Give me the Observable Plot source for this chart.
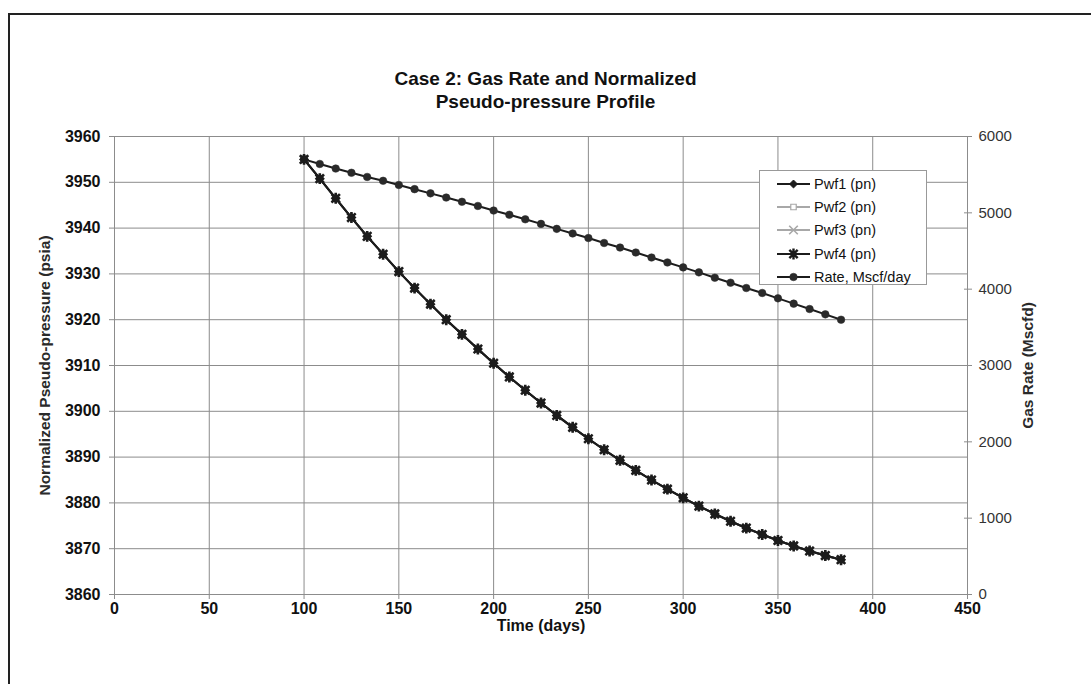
<!DOCTYPE html>
<html><head><meta charset="utf-8">
<script src="https://cdn.jsdelivr.net/npm/d3@7"></script>
<script src="https://cdn.jsdelivr.net/npm/@observablehq/plot@0.6"></script>
<style>
body{margin:0;background:#fff;font-family:"Liberation Sans",Arial,sans-serif;}
#wrap{position:relative;width:1091px;height:684px;overflow:hidden;background:#fff;}
#frame{position:absolute;left:8px;top:13px;width:1100px;height:700px;border-top:2px solid #222;border-left:2px solid #222;}
#title{position:absolute;left:0;width:1091px;top:67px;text-align:center;font-weight:bold;font-size:19px;line-height:23px;color:#111;}
#chart{position:absolute;left:0;top:120px;}
#legend{position:absolute;left:759px;top:170px;width:168px;height:115px;border:1px solid #999;background:#fff;box-sizing:border-box;}
.row{position:absolute;left:0;height:20px;display:flex;align-items:center;font-size:14.5px;color:#111;}
.row svg{margin-left:17px;margin-right:4px;}
</style></head>
<body>
<div id="wrap">
  <div id="frame"></div>
  <div id="title">Case 2: Gas Rate and Normalized<br>Pseudo-pressure Profile</div>
  <div id="chart"></div>
  <div id="legend"></div>
</div>
<script>
// ---- data ----
const timeDays = [100,108.3,116.7,125,133.3,141.7,150,158.3,166.7,175,183.3,191.7,200,208.3,216.7,225,233.3,241.7,250,258.3,266.7,275,283.3,291.7,300,308.3,316.7,325,333.3,341.7,350,358.3,366.7,375,383.3];
const pwf4 = [3955.0,3950.8,3946.5,3942.3,3938.2,3934.3,3930.5,3926.9,3923.4,3920.0,3916.8,3913.6,3910.5,3907.5,3904.6,3901.8,3899.1,3896.5,3894.0,3891.6,3889.3,3887.1,3885.0,3883.0,3881.1,3879.3,3877.6,3876.0,3874.5,3873.1,3871.8,3870.6,3869.5,3868.5,3867.6];
// Pwf1..Pwf3 coincide with Pwf4 in the picture
const pwf1 = [3955.0,3950.8,3946.5,3942.3,3938.2,3934.3,3930.5,3926.9,3923.4,3920.0,3916.8,3913.6,3910.5,3907.5,3904.6,3901.8,3899.1,3896.5,3894.0,3891.6,3889.3,3887.1,3885.0,3883.0,3881.1,3879.3,3877.6,3876.0,3874.5,3873.1,3871.8,3870.6,3869.5,3868.5,3867.6];
const pwf2 = pwf1.slice();
const pwf3 = pwf1.slice();
const rateMscfd = [5700,5640,5580,5525,5470,5420,5365,5310,5255,5200,5145,5090,5030,4975,4915,4855,4790,4730,4670,4605,4545,4480,4415,4350,4285,4220,4150,4085,4015,3950,3880,3810,3740,3670,3600];
const xTicks = [0,50,100,150,200,250,300,350,400,450];
const yTicks = [3860,3870,3880,3890,3900,3910,3920,3930,3940,3950,3960];
const rateTicks = [0,1000,2000,3000,4000,5000,6000];
const yDomain = [3860,3960];
const rateDomain = [0,6000];
const seriesNames = ["Pwf1 (pn)","Pwf2 (pn)","Pwf3 (pn)","Pwf4 (pn)","Rate, Mscf/day"];

// map rate onto left axis units
const toLeft = r => yDomain[0] + (r - rateDomain[0]) * (yDomain[1]-yDomain[0]) / (rateDomain[1]-rateDomain[0]);
const toRate = v => Math.round((v - yDomain[0]) * (rateDomain[1]-rateDomain[0]) / (yDomain[1]-yDomain[0]) + rateDomain[0]);

const rows = timeDays.map((t,i)=>({t, p1:pwf1[i], p2:pwf2[i], p3:pwf3[i], p4:pwf4[i], r: toLeft(rateMscfd[i])}));

const dark = "#1c1c1c", gray = "#a8a8a8", grid = "#8c8c8c";

const starSymbol = {
  draw(ctx, size) {
    const r = Math.sqrt(size / Math.PI);
    const a = r * 0.8;
    ctx.moveTo(-a,-a); ctx.lineTo(a,a);
    ctx.moveTo(-a,a); ctx.lineTo(a,-a);
    ctx.moveTo(0,-r*1.05); ctx.lineTo(0,r*1.05);
  }
};

const chart = Plot.plot({
  width: 1091,
  height: 564,
  marginTop: 16,
  marginBottom: 90,
  marginLeft: 114,
  marginRight: 124,
  style: {fontFamily: "Liberation Sans, Arial, sans-serif", fontSize: "16px", color: "#111", background: "transparent", overflow: "visible"},
  x: {domain: [0,450], axis: null},
  y: {domain: yDomain, axis: null},
  marks: [
    Plot.gridX(xTicks, {stroke: grid, strokeOpacity: 1, strokeWidth: 1}),
    Plot.gridY(yTicks, {stroke: grid, strokeOpacity: 1, strokeWidth: 1}),
    Plot.frame({stroke: grid, strokeWidth: 1}),
    Plot.axisX(xTicks, {anchor: "bottom", tickSize: 5, tickPadding: 3, stroke: grid, fontWeight: "bold", fontSize: 16, tickFormat: d => String(d), label: null}),
    Plot.axisY(yTicks, {anchor: "left", tickSize: 5, tickPadding: 9, stroke: grid, fontWeight: "bold", fontSize: 16, tickFormat: d => String(d), label: null}),
    Plot.axisY(rateTicks.map(toLeft), {anchor: "right", tickSize: 4, tickPadding: 7, stroke: grid, fontSize: 15, fill: "#333", tickFormat: d => String(toRate(d)), label: null}),
    Plot.axisY(rateTicks.map(toLeft), {anchor: "right", tickSize: -4, stroke: grid, tickFormat: () => "", label: null}),
    Plot.text(["Normalized Pseudo-pressure (psia)"], {frameAnchor: "left", dx: -69, rotate: -90, textAnchor: "middle", fontSize: 15.5, fontWeight: "bold", fill: "#2a2a2a"}),
    Plot.text(["Gas Rate (Mscfd)"], {frameAnchor: "right", dx: 61, rotate: -90, textAnchor: "middle", fontSize: 15.5, fontWeight: "bold", fill: "#2a2a2a"}),
    Plot.text(["Time (days)"], {frameAnchor: "bottom", dy: 36, fontSize: 16, fontWeight: "bold", fill: "#111"}),
    // Rate
    Plot.line(rows, {x: "t", y: "r", stroke: dark, strokeWidth: 2}),
    Plot.dot(rows, {x: "t", y: "r", r: 3.8, fill: "#2a2a2a", stroke: "#2a2a2a", strokeWidth: 0.5}),
    // Pwf2, Pwf3 (gray, hidden below)
    Plot.line(rows, {x: "t", y: "p2", stroke: gray, strokeWidth: 2}),
    Plot.dot(rows, {x: "t", y: "p2", symbol: "square2", r: 3.5, fill: "#fff", stroke: gray}),
    Plot.line(rows, {x: "t", y: "p3", stroke: gray, strokeWidth: 2}),
    Plot.dot(rows, {x: "t", y: "p3", symbol: "times", r: 4, stroke: gray}),
    // Pwf1
    Plot.line(rows, {x: "t", y: "p1", stroke: dark, strokeWidth: 2}),
    Plot.dot(rows, {x: "t", y: "p1", symbol: "diamond2", r: 3.6, fill: dark, stroke: dark}),
    // Pwf4
    Plot.line(rows, {x: "t", y: "p4", stroke: dark, strokeWidth: 2}),
    Plot.dot(rows, {x: "t", y: "p4", symbol: starSymbol, r: 5.2, fill: "none", stroke: dark, strokeWidth: 2.6})
  ]
});
document.getElementById("chart").appendChild(chart);

// ---- legend ----
const legend = document.getElementById("legend");
const legendStyles = [
  {stroke: dark, sym: d3.symbolDiamond2, size: 40, fill: dark, mstroke: dark, sw: 1},
  {stroke: gray, sym: d3.symbolSquare2, size: 38, fill: "#fff", mstroke: gray, sw: 1.2},
  {stroke: gray, sym: d3.symbolTimes, size: 50, fill: "none", mstroke: gray, sw: 1.6},
  {stroke: dark, sym: starSymbol, size: 85, fill: "none", mstroke: dark, sw: 2.4},
  {stroke: dark, sym: d3.symbolCircle, size: 45, fill: "#2a2a2a", mstroke: "#2a2a2a", sw: 0.5}
];
seriesNames.forEach((name, i) => {
  const s = legendStyles[i];
  const row = document.createElement("div");
  row.className = "row";
  row.style.top = (3 + i * 23.2) + "px";
  const path = d3.symbol(s.sym, s.size)();
  row.innerHTML = `<svg width="33" height="16" viewBox="0 0 33 16"><line x1="0" y1="8" x2="33" y2="8" stroke="${s.stroke}" stroke-width="1.8"/><path transform="translate(16.5,8)" d="${path}" fill="${s.fill}" stroke="${s.mstroke}" stroke-width="${s.sw}"/></svg><span>${name}</span>`;
  legend.appendChild(row);
});
</script>
</body></html>
